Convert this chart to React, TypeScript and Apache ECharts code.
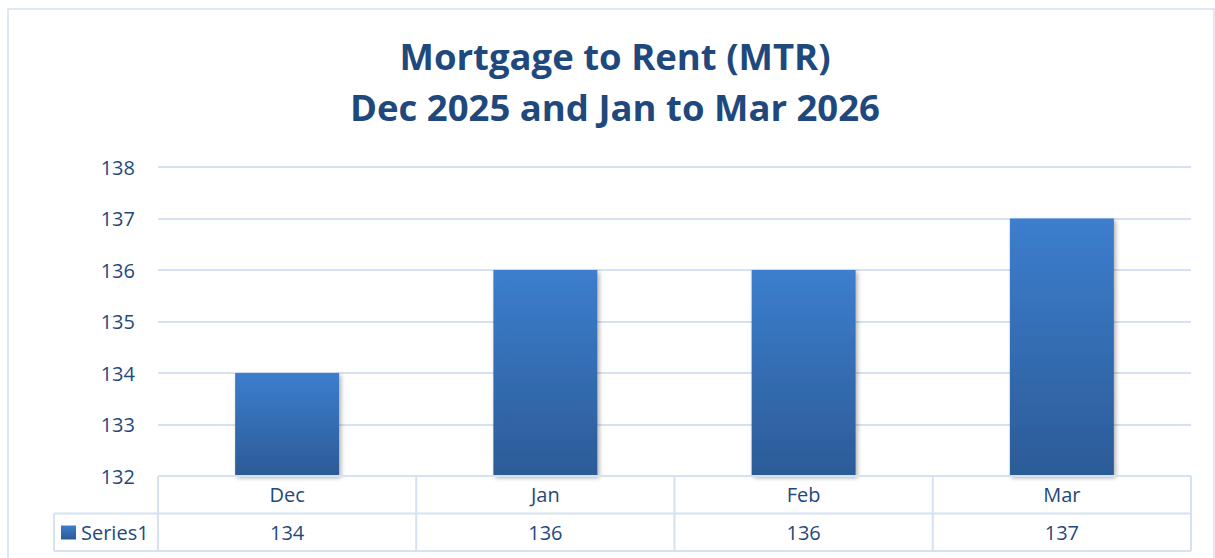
import React, { useEffect, useRef } from "react";
import * as echarts from "echarts";

const categories = ["Dec", "Jan", "Feb", "Mar"];
const values = [134, 136, 136, 137];
const seriesName = "Series1";
const titleLines = ["Mortgage to Rent (MTR)", "Dec 2025 and Jan to Mar 2026"];
const yMin = 132;
const yMax = 138;
const yStep = 1;

const W = 1215;
const H = 558;
const GL = 158;
const GR = 1191;
const GT = 167;
const GB = 476;
const ROW = 37.5;
const TEXT = "#1F497D";
const LINE = "#D6E1F1";
const FONT = "'Open Sans', Lato, sans-serif";
const LFS = 20;

export default function App() {
  const ref = useRef<HTMLDivElement>(null);
  useEffect(() => {
    if (!ref.current) return;
    const chart = echarts.init(ref.current, undefined, { renderer: "svg" });
    const colW = (GR - GL) / categories.length;
    const tableLines: any[] = [];
    const ln = (x1: number, y1: number, x2: number, y2: number) =>
      tableLines.push({
        type: "line",
        shape: { x1, y1, x2, y2 },
        style: { stroke: LINE, lineWidth: 2 },
        z: 10,
      });
    ln(GL, GB, GR, GB);
    ln(54, GB + ROW, GR, GB + ROW);
    ln(54, GB + 2 * ROW, GR, GB + 2 * ROW);
    ln(54, GB + ROW, 54, GB + 2 * ROW);
    for (let i = 0; i <= categories.length; i++) {
      const x = GL + i * colW;
      ln(x, GB, x, GB + 2 * ROW);
    }
    const grad = new echarts.graphic.LinearGradient(0, 0, 0, 1, [
      { offset: 0, color: "#3C7ECE" },
      { offset: 1, color: "#2C5B97" },
    ]);
    chart.setOption({
      animation: false,
      title: {
        text: titleLines.join("\n"),
        left: 610,
        top: 25,
        textAlign: "center",
        textStyle: {
          fontFamily: FONT,
          fontWeight: "bold",
          fontSize: 36.5,
          lineHeight: 51,
          color: TEXT,
        },
      },
      legend: {
        left: 61,
        top: GB + ROW + 9,
        padding: 0,
        itemWidth: 15,
        itemHeight: 14,
        itemGap: 5,
        icon: "rect",
        data: [seriesName],
        textStyle: { fontFamily: FONT, fontSize: LFS, color: TEXT, padding: [0, 0, 0, 0] },
      },
      grid: { left: GL, right: W - GR, top: GT, bottom: H - GB, containLabel: false },
      xAxis: {
        type: "category",
        data: categories,
        axisLine: { show: false },
        axisTick: { show: false },
        axisLabel: {
          interval: 0,
          margin: 0,
          formatter: (v: string, i: number) => `{a|${v}}\n{a|${values[i]}}`,
          rich: {
            a: { fontFamily: FONT, fontSize: LFS, color: TEXT, lineHeight: ROW, align: "center" },
          },
        },
      },
      yAxis: {
        type: "value",
        min: yMin,
        max: yMax,
        interval: yStep,
        axisLine: { show: false },
        axisTick: { show: false },
        splitLine: { lineStyle: { color: LINE, width: 2 } },
        axisLabel: { fontFamily: FONT, fontSize: LFS, color: TEXT, margin: 23 },
      },
      series: [
        {
          name: seriesName,
          type: "bar",
          data: values,
          barWidth: 104,
          itemStyle: {
            color: grad,
            shadowBlur: 4,
            shadowOffsetX: 2,
            shadowOffsetY: 2,
            shadowColor: "rgba(0,0,0,0.3)",
          },
        },
      ],
      graphic: [
        {
          type: "rect",
          shape: { x: 8, y: 9, width: 1206, height: 600 },
          style: { fill: "none", stroke: LINE, lineWidth: 1.5 },
          silent: true,
        },
        ...tableLines,
      ],
    });
    return () => chart.dispose();
  }, []);
  return (
    <div
      ref={ref}
      style={{ position: "fixed", left: 0, top: 0, width: W, height: H, background: "#fff" }}
    />
  );
}
